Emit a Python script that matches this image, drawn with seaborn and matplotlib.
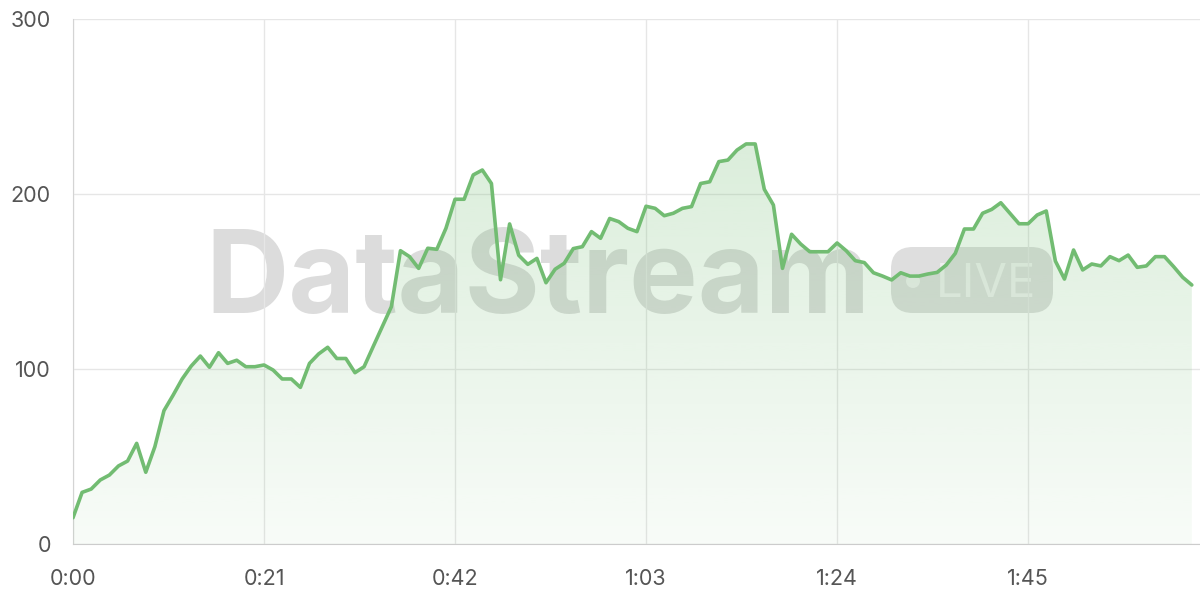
import numpy as np
import pandas as pd
import matplotlib
matplotlib.use('Agg')
import matplotlib.pyplot as plt
import seaborn as sns
from matplotlib.ticker import FuncFormatter
from matplotlib.patches import FancyBboxPatch, Circle
from matplotlib.transforms import IdentityTransform

# values, one per second
seconds = list(range(124))
values = [15, 29.5, 31.4, 36.6, 39.4, 44.6, 47.4, 57.5, 41, 55.6,
          76.2, 85, 94.3, 101.7, 107.4, 101, 109.3, 103.2, 105, 101.3,
          101.3, 102.3, 99.4, 94.3, 94.3, 89.5, 103.2, 108.6, 112.4, 106,
          106, 97.9, 101.3, 112.8, 124.2, 135.6, 167.6, 164.2, 157.5, 169,
          168.4, 180.4, 197, 197, 210.9, 213.7, 206, 151, 182.9, 165,
          159.8, 163.2, 149.3, 157, 160.4, 168.8, 169.9, 178.5, 174.7, 186,
          184.2, 180.4, 178.5, 193, 191.8, 187.6, 189, 191.8, 192.8, 206,
          207, 218.5, 219.4, 225.1, 228.6, 228.6, 202.7, 193.7, 157.5, 177,
          171.4, 167, 167, 167, 172, 167.6, 161.9, 160.8, 155, 153.1,
          150.9, 155, 153.1, 153.1, 154.3, 155.2, 159.4, 166.1, 180, 180,
          189, 191.2, 195, 189, 183, 183, 188, 190.3, 161.7, 151.4,
          168, 156.6, 160, 158.9, 164.2, 161.9, 165.1, 158.1, 158.9, 164.2,
          164.2, 158.5, 152.4, 148]
xticks = [0, 21, 42, 63, 84, 105]
yticks = [0, 100, 200, 300]

df = pd.DataFrame({'t': seconds, 'v': values})

sns.set_style('white')
plt.rcParams['font.family'] = ['Inter', 'DejaVu Sans']

green = '#72bc72'

fig = plt.figure(figsize=(12, 6), dpi=100)
ax = fig.add_axes([73 / 1200, 56 / 600, 1127 / 1200, 525 / 600])

# line
sns.lineplot(data=df, x='t', y='v', ax=ax, color=green, linewidth=2.6, zorder=3)

# gradient fill under the line
poly = ax.fill_between(df['t'], df['v'], 0, facecolor='none', edgecolor='none')
grad = np.zeros((256, 1, 4))
grad[..., 0] = 0x72 / 255
grad[..., 1] = 0xbc / 255
grad[..., 2] = 0x72 / 255
grad[..., 3] = np.linspace(0.32, 0.05, 256)[:, None]
img = ax.imshow(grad, aspect='auto', extent=[0, 123, 0, 300], origin='upper', zorder=2)
img.set_clip_path(poly.get_paths()[0], transform=ax.transData)

ax.set_xlim(0, 123.9)
ax.set_ylim(0, 300)
ax.set_xticks(xticks)
ax.set_yticks(yticks)
ax.xaxis.set_major_formatter(FuncFormatter(lambda s, p: f"{int(s) // 60}:{int(s) % 60:02d}"))
ax.set_xlabel('')
ax.set_ylabel('')

ax.grid(True, color='#e6e6e6', linewidth=1)
ax.set_axisbelow(True)
for side in ['top', 'right']:
    ax.spines[side].set_visible(False)
ax.spines['left'].set_color('#d4d4d4')
ax.spines['bottom'].set_color('#cccccc')
ax.spines['left'].set_zorder(0.6)
ax.tick_params(axis='both', length=10, width=1, color='#e2e2e2',
               labelcolor='#555555', labelsize=15.5)
ax.tick_params(axis='y', pad=6)
ax.tick_params(axis='x', pad=8)

# watermark
ax.text(205 / 1200, 1 - 313 / 600, 'DataStream', transform=fig.transFigure,
        fontsize=83, fontweight='bold', color='#dcdcdc', ha='left',
        va='baseline', zorder=0.2)
badge = FancyBboxPatch((891, 600 - 313), 162, 66,
                       boxstyle='round,pad=0,rounding_size=22',
                       transform=IdentityTransform(), facecolor='#dedede',
                       edgecolor='none', zorder=0.2)
ax.add_artist(badge)
dot = Circle((913, 600 - 281), 7, transform=IdentityTransform(),
             facecolor='#f0f0f0', edgecolor='none', zorder=0.25)
ax.add_artist(dot)
ax.text(936 / 1200, 1 - 297 / 600, 'LIVE', transform=fig.transFigure,
        fontsize=34, color='#f0f0f0', ha='left', va='baseline', zorder=0.25)

fig.savefig('out.png', dpi=100)
